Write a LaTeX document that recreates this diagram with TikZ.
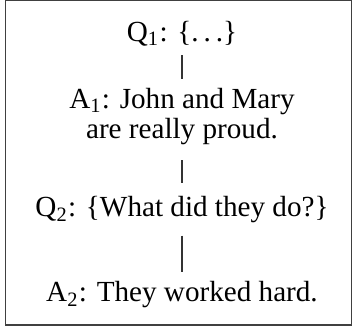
\documentclass[tikz,border=0pt]{standalone}
\usepackage{fontspec}
\setmainfont{Liberation Serif}
\usetikzlibrary{positioning}

\newcommand{\spdots}{.\kern0.17em.\kern0.17em.}

\begin{document}
\begin{tikzpicture}[
    x=0.343pt, y=-0.343pt,
    utt/.style={anchor=base, align=center, inner sep=3pt},
    branch/.style={draw=black!80, line width=0.35pt}
]
\useasboundingbox (0,0) rectangle (353,331);
\draw[black!75, line width=0.45pt] (5.5,0.5) rectangle (351.5,325);

\node[utt] (q1) at (182,41) {Q\textsubscript{1}: \{\spdots\}};
\node[utt] (a1) at (182,139) {A\textsubscript{1}: John and Mary\\[-1.5pt]are really proud.};
\node[utt] (q2) at (182,217) {Q\textsubscript{2}: \{What did they do?\}};
\node[utt] (a2) at (182,302) {A\textsubscript{2}: They worked hard.};

\draw[branch] (q1.south) -- (a1.north);
\draw[branch, shorten <=2pt, shorten >=1.5pt] (a1.south) -- (q2.north);
\draw[branch, shorten <=1pt] (q2.south) -- (a2.north);
\end{tikzpicture}
\end{document}
